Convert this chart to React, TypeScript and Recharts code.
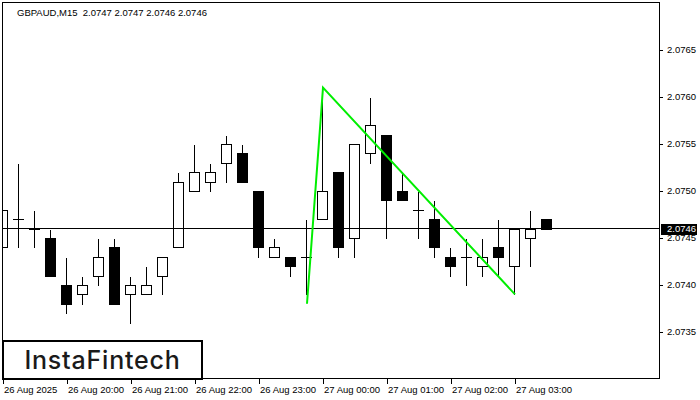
import React from "react";
import { ComposedChart, Bar, Line, XAxis, YAxis } from "recharts";

// M15 candles, 26 Aug 19:00 .. 27 Aug 03:30
const opens = [2.0744, 2.0747, 2.0746, 2.0745, 2.074, 2.0739, 2.0741, 2.0744, 2.0739, 2.0739, 2.0741, 2.0744, 2.075, 2.0751, 2.0753, 2.0754, 2.075, 2.0743, 2.0743, 2.0743, 2.0747, 2.0752, 2.0745, 2.0754, 2.0756, 2.075, 2.0748, 2.0747, 2.0743, 2.0743, 2.0742, 2.0744, 2.0742, 2.0745, 2.0747];
const highs = [2.075, 2.0753, 2.0748, 2.0746, 2.0743, 2.0741, 2.0745, 2.0745, 2.0741, 2.0742, 2.0743, 2.0752, 2.0755, 2.0753, 2.0756, 2.0755, 2.075, 2.0745, 2.0743, 2.0747, 2.076, 2.0752, 2.0755, 2.076, 2.0756, 2.0752, 2.075, 2.0749, 2.0744, 2.0745, 2.0745, 2.0747, 2.0746, 2.0748, 2.0747];
const lows = [2.0742, 2.0744, 2.0744, 2.0741, 2.0737, 2.0738, 2.074, 2.0738, 2.0736, 2.0739, 2.0739, 2.0744, 2.075, 2.075, 2.0751, 2.0751, 2.0743, 2.0743, 2.0741, 2.0739, 2.0747, 2.0743, 2.0743, 2.0753, 2.0745, 2.0749, 2.0745, 2.0743, 2.0741, 2.074, 2.0741, 2.0741, 2.0739, 2.0742, 2.0746];
const closes = [2.0748, 2.0747, 2.0746, 2.0741, 2.0738, 2.074, 2.0743, 2.0738, 2.074, 2.074, 2.0743, 2.0751, 2.0752, 2.0752, 2.0755, 2.0751, 2.0744, 2.0744, 2.0742, 2.0743, 2.075, 2.0744, 2.0755, 2.0757, 2.0749, 2.0749, 2.0748, 2.0744, 2.0742, 2.0743, 2.0743, 2.0743, 2.0746, 2.0746, 2.0746];

const timeTicks = [0, 4, 8, 12, 16, 20, 24, 28, 32];
const timeLabels = ["26 Aug 2025", "26 Aug 20:00", "26 Aug 21:00", "26 Aug 22:00", "26 Aug 23:00", "27 Aug 00:00", "27 Aug 01:00", "27 Aug 02:00", "27 Aug 03:00"];
const priceTicks = [2.0735, 2.074, 2.0745, 2.075, 2.0755, 2.076, 2.0765];
const lastPrice = 2.0746;

// green pattern line (bar index / price)
const patternIdx = [19, 20, 32];
const patternPrice = [2.0738, 2.0761, 2.0739];

const candles = opens.map((o, i) => ({
  k: i,
  open: o,
  high: highs[i],
  low: lows[i],
  close: closes[i],
  range: [lows[i], highs[i]],
}));
const pattern = patternIdx.map((k, i) => ({ k, p: patternPrice[i] }));

const FONT = "'Liberation Sans', Arial, sans-serif";

function Candle(props: any) {
  const { x, y, width, height, payload } = props;
  if (x == null || !payload) return null;
  const cx = Math.floor(x + width / 2) + 0.5;
  const top = Math.min(y, y + height);
  const bottom = Math.max(y, y + height);
  const span = payload.high - payload.low;
  const toPx = (v: number) => (span === 0 ? top : top + ((payload.high - v) / span) * (bottom - top));
  const yo = toPx(payload.open);
  const yc = toPx(payload.close);
  const wt = Math.round(top) + 0.5;
  const wb = Math.round(bottom) + 0.5;
  const bt = Math.round(Math.min(yo, yc)) + 0.5;
  const bb = Math.round(Math.max(yo, yc)) + 0.5;
  const bull = payload.close > payload.open;
  return (
    <g shapeRendering="crispEdges">
      <line x1={cx} x2={cx} y1={wt} y2={wb} stroke="#000" strokeWidth={1} />
      {payload.open === payload.close ? (
        <line x1={cx - 5.5} x2={cx + 5.5} y1={bt} y2={bt} stroke="#000" strokeWidth={1} />
      ) : (
        <rect x={cx - 5} y={bt} width={10} height={bb - bt} fill={bull ? "#fff" : "#000"} stroke="#000" strokeWidth={1} />
      )}
    </g>
  );
}

function TimeTick({ x, y, payload }: any) {
  const i = timeTicks.indexOf(payload.value);
  return (
    <text x={x + 1} y={y} dy="0.71em" fontSize={9.5} fontFamily={FONT} fill="#000">
      {timeLabels[i]}
    </text>
  );
}

function PriceTick({ x, y, payload }: any) {
  const v = payload.value;
  if (v === lastPrice) {
    return (
      <g>
        <rect x={x - 6} y={Math.round(y) - 5} width={36} height={11} fill="#000" />
        <text x={x} y={y} dy="0.355em" fontSize={9.5} fontFamily={FONT} fill="#fff">
          {v.toFixed(4)}
        </text>
      </g>
    );
  }
  return (
    <g>
      <line x1={x - 7} x2={x - 4} y1={Math.round(y) + 0.5} y2={Math.round(y) + 0.5} stroke="#000" />
      <text x={x} y={y} dy="0.355em" fontSize={9.5} fontFamily={FONT} fill="#000">
        {v.toFixed(4)}
      </text>
    </g>
  );
}

export default function App() {
  return (
    <div style={{ position: "fixed", left: 0, top: 0, width: 700, height: 400, background: "#fff", overflow: "hidden" }}>
      <ComposedChart
        width={700}
        height={400}
        data={candles}
        margin={{ top: 3, right: 0, bottom: 0, left: 3 }}
        style={{ position: "absolute", left: 0, top: 0 }}
      >
        <XAxis
          dataKey="k"
          type="number"
          domain={[0, 41.0625]}
          allowDataOverflow
          ticks={timeTicks}
          interval={0}
          height={21}
          axisLine={false}
          tickSize={5}
          tickMargin={2}
          tickLine={{ stroke: "#000", shapeRendering: "crispEdges" }}
          tick={<TimeTick />}
        />
        <YAxis
          orientation="right"
          type="number"
          domain={[2.073, 2.077]}
          allowDataOverflow
          ticks={[...priceTicks, lastPrice]}
          interval={0}
          width={40}
          axisLine={false}
          tickLine={false}
          tickSize={3}
          tickMargin={4}
          tick={<PriceTick />}
        />
        {/* current price line, behind the candles */}
        <Line
          data={[{ k: 0, p: lastPrice }, { k: 41.0625, p: lastPrice }]}
          dataKey="p"
          stroke="#000"
          strokeWidth={1}
          dot={false}
          activeDot={false}
          isAnimationActive={false}
          shapeRendering="crispEdges"
        />
        <Bar dataKey="range" barSize={11} shape={<Candle />} isAnimationActive={false} />
        <Line
          data={pattern}
          dataKey="p"
          type="linear"
          stroke="#00ee00"
          strokeWidth={2}
          dot={false}
          activeDot={false}
          isAnimationActive={false}
        />
      </ComposedChart>
      <div
        style={{
          position: "absolute",
          left: 2,
          top: 2,
          width: 656,
          height: 375,
          border: "1px solid #000",
          pointerEvents: "none",
        }}
      />
      <div
        style={{
          position: "absolute",
          left: 17,
          top: 7,
          fontFamily: FONT,
          fontSize: 9.5,
          lineHeight: "12px",
          whiteSpace: "pre",
          color: "#000",
        }}
      >
        {"GBPAUD,M15  2.0747 2.0747 2.0746 2.0746"}
      </div>
      <div
        style={{
          position: "absolute",
          left: 2,
          top: 340,
          width: 201,
          height: 40,
          boxSizing: "border-box",
          border: "2px solid #000",
          background: "#fff",
          display: "flex",
          alignItems: "center",
          justifyContent: "center",
          fontFamily: "Inter, 'Noto Sans', sans-serif",
          fontWeight: 500,
          fontSize: 25,
          letterSpacing: 0.8,
          lineHeight: 1,
          color: "#1a1a1a",
        }}
      >
        InstaFintech
      </div>
    </div>
  );
}
